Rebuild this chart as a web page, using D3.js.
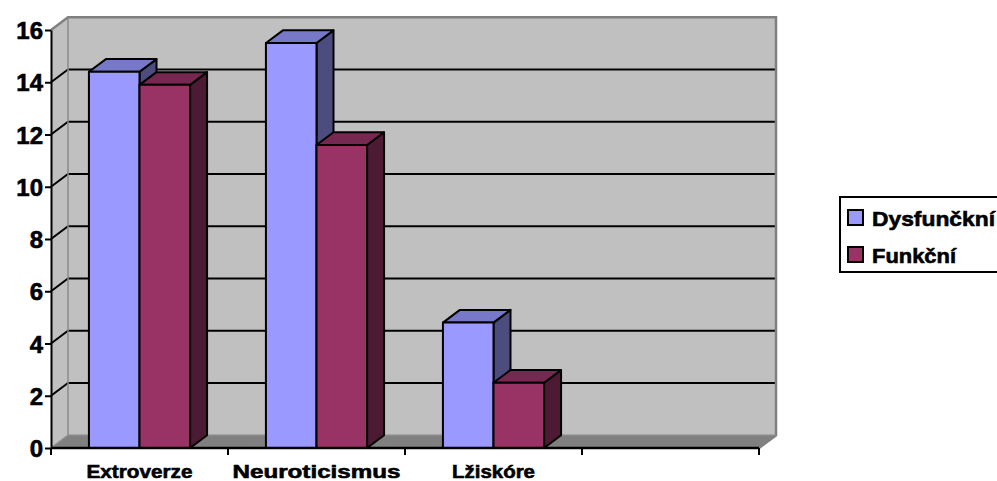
<!DOCTYPE html>
<html>
<head>
<meta charset="utf-8">
<script src="https://cdn.jsdelivr.net/npm/d3@7"></script>
<style>
  body { margin: 0; background: #fff; }
  svg { display: block; }
  text { font-family: "Liberation Sans", Arial, sans-serif; font-weight: 700; fill: #000; stroke: #000; stroke-width: 0.6px; }
</style>
</head>
<body>
<svg width="997" height="481"></svg>
<script>
var categories = ["Extroverze", "Neuroticismus", "Lžiskóre", ""];
var series = ["Dysfunčkní", "Funkční"];
var dysfuncni = [14.4, 15.5, 4.8, null];
var funkcni = [13.9, 11.6, 2.5, null];
var yTicks = [0, 2, 4, 6, 8, 10, 12, 14, 16];

var front = {"Dysfunčkní": "#9999ff", "Funkční": "#993366"};
var topc = {"Dysfunčkní": "#7878c8", "Funkční": "#762850"};
var side = {"Dysfunčkní": "#4c4c7f", "Funkční": "#4c1a33"};

var svg = d3.select("svg");
var dx = 17, dy = -12.7;

var x0 = d3.scaleBand().domain(categories).range([51, 759]);
var x1 = d3.scaleBand().domain(series)
    .range([0, x0.bandwidth()]).paddingOuter(0.75).paddingInner(0);
var y = d3.scaleLinear().domain([0, 16]).range([448, 30]);

var xl = 51, xr = 759, y0 = y(0), yTop = y(16);

function poly(pts) {
    return "M" + pts.map(function(p) { return p[0] + "," + p[1]; }).join("L") + "Z";
}

// back wall
svg.append("path")
    .attr("d", poly([[xl+dx, yTop+dy], [xr+dx, yTop+dy], [xr+dx, y0+dy], [xl+dx, y0+dy]]))
    .attr("fill", "#c0c0c0");
// left wall
svg.append("path")
    .attr("d", poly([[xl, yTop], [xl+dx, yTop+dy], [xl+dx, y0+dy], [xl, y0]]))
    .attr("fill", "#c0c0c0");
// floor
svg.append("path")
    .attr("d", poly([[xl, y0], [xr, y0], [xr+dx, y0+dy], [xl+dx, y0+dy]]))
    .attr("fill", "#808080");

// gridlines
var grid = svg.append("g");
yTicks.filter(function(v) { return v > 0 && v < 16; }).forEach(function(v) {
    grid.append("path")
        .attr("d", "M" + xl + "," + y(v) + "L" + (xl+dx) + "," + (y(v)+dy) + "L" + (xr+dx) + "," + (y(v)+dy))
        .attr("fill", "none").attr("stroke", "#000").attr("stroke-width", 2);
});

// wall borders
svg.append("path")
    .attr("d", "M" + xl + "," + yTop + "L" + (xl+dx) + "," + (yTop+dy) + "L" + (xr+dx) + "," + (yTop+dy) +
        "L" + (xr+dx) + "," + (y0+dy) + "L" + xr + "," + y0)
    .attr("fill", "none").attr("stroke", "#808080").attr("stroke-width", 2.5);
svg.append("path")
    .attr("d", "M" + (xl+dx) + "," + (yTop+dy) + "L" + (xl+dx) + "," + (y0+dy) + "L" + (xr+dx) + "," + (y0+dy))
    .attr("fill", "none").attr("stroke", "#8a8a8a").attr("stroke-width", 1.5);
svg.append("path")
    .attr("d", "M" + xl + "," + y0 + "L" + (xl+dx) + "," + (y0+dy))
    .attr("fill", "none").attr("stroke", "#8a8a8a").attr("stroke-width", 1.5);

// bars
var rows = [];
categories.forEach(function(c, i) {
    if (dysfuncni[i] != null) rows.push({cat: c, s: "Dysfunčkní", v: dysfuncni[i]});
    if (funkcni[i] != null) rows.push({cat: c, s: "Funkční", v: funkcni[i]});
});

var bars = svg.append("g").selectAll("g").data(rows).enter().append("g")
    .attr("stroke", "#000").attr("stroke-width", 2).attr("stroke-linejoin", "round");

bars.each(function(d) {
    var g = d3.select(this);
    var bx = x0(d.cat) + x1(d.s), bw = x1.bandwidth();
    var by = y(d.v);
    g.append("path")
        .attr("d", poly([[bx+bw, by], [bx+bw+dx, by+dy], [bx+bw+dx, y0+dy], [bx+bw, y0]]))
        .attr("fill", side[d.s]);
    g.append("path")
        .attr("d", poly([[bx, by], [bx+dx, by+dy], [bx+bw+dx, by+dy], [bx+bw, by]]))
        .attr("fill", topc[d.s]);
    g.append("rect")
        .attr("x", bx).attr("y", by).attr("width", bw).attr("height", y0 - by)
        .attr("fill", front[d.s]);
});

// y axis
var yAxis = svg.append("g")
    .attr("transform", "translate(" + xl + ",0)")
    .call(d3.axisLeft(y).tickValues(yTicks).tickSize(6).tickSizeOuter(0).tickPadding(2));
yAxis.attr("font-family", null).attr("font-size", null);
yAxis.select(".domain").attr("stroke", "#000").attr("stroke-width", 2);
yAxis.selectAll(".tick line").attr("stroke", "#000").attr("stroke-width", 2);
yAxis.selectAll(".tick text")
    .attr("fill", "#000")
    .style("font-size", "24px")
    .attr("dy", "0.36em");

// x axis
svg.append("line")
    .attr("x1", xl).attr("x2", xr).attr("y1", y0).attr("y2", y0)
    .attr("stroke", "#000").attr("stroke-width", 2.5);
var xTicks = categories.map(function(c) { return x0(c); }).concat([xr]);
svg.append("g").selectAll("line").data(xTicks).enter().append("line")
    .attr("x1", function(d) { return d; }).attr("x2", function(d) { return d; })
    .attr("y1", y0).attr("y2", y0 + 7)
    .attr("stroke", "#000").attr("stroke-width", 2);

var labelW = {"Extroverze": 106, "Neuroticismus": 168, "Lžiskóre": 83};
svg.append("g").selectAll("text").data(categories.filter(function(c) { return c; })).enter().append("text")
    .attr("x", function(d) { return x0(d) + x0.bandwidth() / 2; })
    .attr("y", 478)
    .attr("text-anchor", "middle")
    .attr("textLength", function(d) { return labelW[d]; })
    .attr("lengthAdjust", "spacingAndGlyphs")
    .style("font-size", "19px")
    .text(function(d) { return d; });

// legend
var legend = svg.append("g").attr("transform", "translate(840,197)");
legend.append("rect")
    .attr("x", 0).attr("y", 0).attr("width", 170).attr("height", 75)
    .attr("fill", "#fff").attr("stroke", "#000").attr("stroke-width", 2);
var legW = {"Dysfunčkní": 123, "Funkční": 84};
var li = legend.selectAll("g.item").data(series).enter().append("g")
    .attr("transform", function(d, i) { return "translate(8," + (13 + i * 37) + ")"; });
li.append("rect")
    .attr("width", 15).attr("height", 15)
    .attr("fill", function(d) { return front[d]; })
    .attr("stroke", "#000").attr("stroke-width", 2);
li.append("text")
    .attr("x", 24).attr("y", 15.5)
    .attr("textLength", function(d) { return legW[d]; })
    .attr("lengthAdjust", "spacingAndGlyphs")
    .style("font-size", "21px")
    .text(function(d) { return d; });
</script>
</body>
</html>
